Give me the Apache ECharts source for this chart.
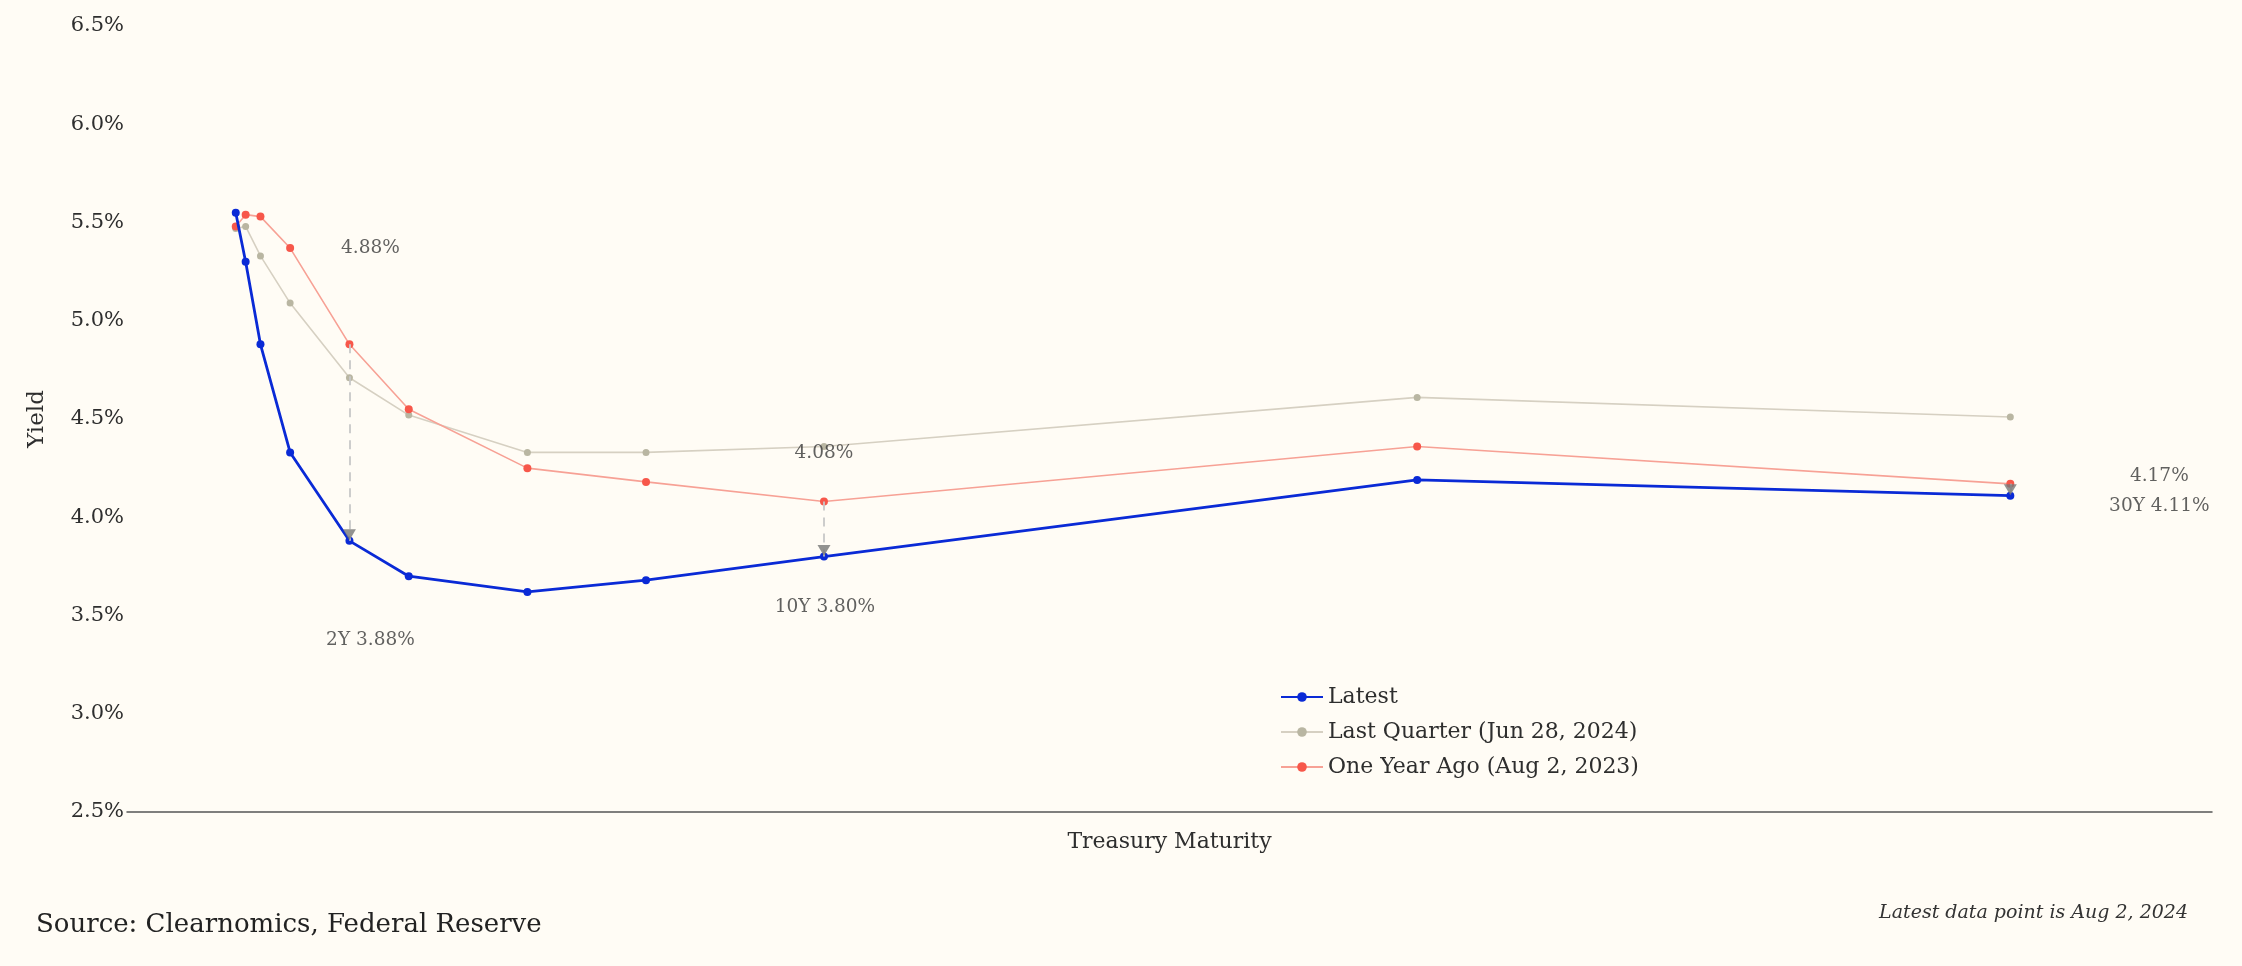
<!DOCTYPE html>
<html>
<head>
<meta charset="utf-8">
<script src="https://cdn.jsdelivr.net/npm/echarts@6/dist/echarts.min.js"></script>
<style>
html,body{margin:0;padding:0;background:#fffcf5;}
#chart{width:2242px;height:966px;}
</style>
</head>
<body>
<div id="chart"></div>
<script>
// Maturity in years
const maturities = [1/12, 0.25, 0.5, 1, 2, 3, 5, 7, 10, 20, 30];
const maturityLabels = ['1M','3M','6M','1Y','2Y','3Y','5Y','7Y','10Y','20Y','30Y'];
const latest      = [5.55, 5.30, 4.88, 4.33, 3.88, 3.70, 3.62, 3.68, 3.80, 4.19, 4.11];
const lastQuarter = [5.47, 5.48, 5.33, 5.09, 4.71, 4.52, 4.33, 4.33, 4.36, 4.61, 4.51];
const oneYearAgo  = [5.48, 5.54, 5.53, 5.37, 4.88, 4.55, 4.25, 4.18, 4.08, 4.36, 4.17];
const seriesNames = ['Latest', 'Last Quarter (Jun 28, 2024)', 'One Year Ago (Aug 2, 2023)'];
const yTicks = [2.5, 3.0, 3.5, 4.0, 4.5, 5.0, 5.5, 6.0, 6.5];
const annotated = ['2Y', '10Y', '30Y'];
// pixel offsets of the annotation labels (style)
const topOffsets = {'2Y':[21,-96], '10Y':[0,-48], '30Y':[149,-8]};
const botOffsets = {'2Y':[21,99], '10Y':[1,51], '30Y':[149,11]};

const FONT = 'DejaVu Serif';
const TXT = '#2e2e2e';
const pts = arr => maturities.map((m,i)=>[m, arr[i]]);

const markLines = annotated.map(lbl => {
  const i = maturityLabels.indexOf(lbl);
  return [{coord:[maturities[i], oneYearAgo[i]]}, {coord:[maturities[i], latest[i]]}];
});
const arrowPts = annotated.map(lbl => {
  const i = maturityLabels.indexOf(lbl);
  return [maturities[i], latest[i]];
});

const annotData = [];
annotated.forEach(lbl => {
  const i = maturityLabels.indexOf(lbl);
  annotData.push({value:[maturities[i], oneYearAgo[i]],
    label:{formatter: oneYearAgo[i].toFixed(2)+'%', offset: topOffsets[lbl]}});
  annotData.push({value:[maturities[i], latest[i]],
    label:{formatter: lbl+' '+latest[i].toFixed(2)+'%', offset: botOffsets[lbl]}});
});

const chart = echarts.init(document.getElementById('chart'), null, {renderer:'canvas'});
chart.setOption({
  backgroundColor:'#fffcf5',
  animation:false,
  textStyle:{fontFamily:FONT},
  grid:{left:127, right:30, top:26, bottom:154},
  legend:{
    orient:'vertical', left:1280, top:686, padding:0, itemGap:13, itemWidth:42, itemHeight:12,
    data: seriesNames,
    textStyle:{fontFamily:FONT, fontSize:22, color:TXT}
  },
  xAxis:{
    type:'value', min:-1.75, max:33.4,
    name:'Treasury Maturity', nameLocation:'middle', nameGap:19,
    nameTextStyle:{fontFamily:FONT, fontSize:22, color:TXT},
    axisLine:{show:true, lineStyle:{color:'#555', width:1.5}},
    axisTick:{show:false}, axisLabel:{show:false}, splitLine:{show:false}
  },
  yAxis:{
    type:'value', min:yTicks[0], max:yTicks[yTicks.length-1], interval:0.5,
    name:'Yield', nameLocation:'middle', nameGap:78,
    nameTextStyle:{fontFamily:FONT, fontSize:23, color:TXT},
    axisLine:{show:false}, axisTick:{show:false}, splitLine:{show:false},
    axisLabel:{margin:3, fontFamily:FONT, fontSize:21, color:TXT,
      formatter: v => v.toFixed(1)+'%'}
  },
  series:[
    {
      name:seriesNames[0], type:'line', data:pts(latest), z:5,
      symbol:'circle', symbolSize:8,
      lineStyle:{color:'#0a2ad6', width:2.8},
      itemStyle:{color:'#0a2ad6'}
    },
    {
      name:seriesNames[1], type:'line', data:pts(lastQuarter), z:3,
      symbol:'circle', symbolSize:7,
      lineStyle:{color:'#d6d0c2', width:1.6},
      itemStyle:{color:'#b9b6a2'}
    },
    {
      name:seriesNames[2], type:'line', data:pts(oneYearAgo), z:4,
      symbol:'circle', symbolSize:8,
      lineStyle:{color:'#f7a195', width:1.6},
      itemStyle:{color:'#f7574a'},
      markLine:{
        silent:true, z:10,
        symbol:['none','none'],
        lineStyle:{color:'#c8c8c8', type:[9,7], width:1.8},
        label:{show:false},
        data: markLines
      }
    },
    {
      name:'arrows', type:'scatter', data:arrowPts, z:11, silent:true,
      symbol:'triangle', symbolRotate:180, symbolSize:[13,11], symbolOffset:[0,-6],
      itemStyle:{color:'#777'}
    },
    {
      name:'annot', type:'scatter', data:annotData, symbolSize:1, z:12,
      itemStyle:{color:'rgba(0,0,0,0)'}, silent:true,
      label:{show:true, position:'inside', fontFamily:FONT, fontSize:18.5, color:'#3a3a3a'}
    }
  ],
  graphic:[
    {type:'text', left:36, top:912, style:{text:'Source: Clearnomics, Federal Reserve',
      fontFamily:FONT, fontSize:26, fill:'#222'}},
    {type:'text', right:54, top:904, style:{text:'Latest data point is Aug 2, 2024',
      fontFamily:FONT, fontSize:19, fontStyle:'italic', fill:'#333'}}
  ]
});
</script>
</body>
</html>
